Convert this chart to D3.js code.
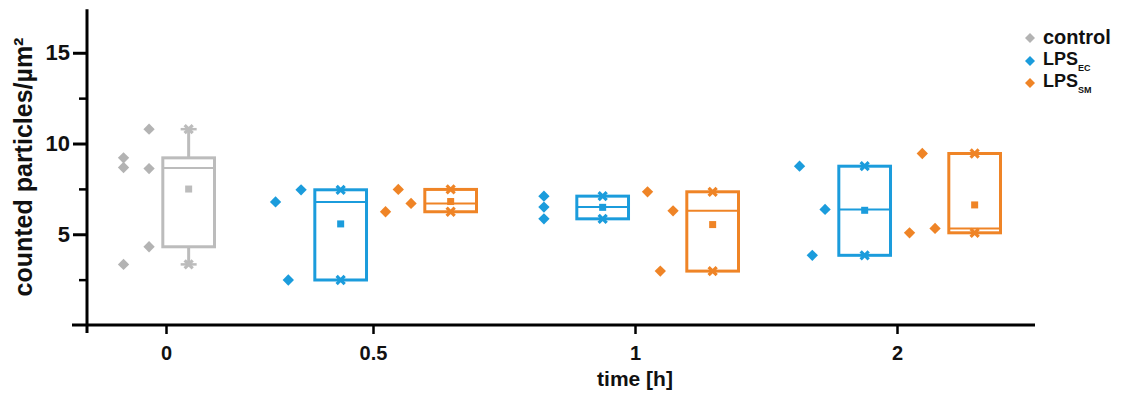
<!DOCTYPE html>
<html><head><meta charset="utf-8">
<script src="https://cdn.jsdelivr.net/npm/d3@7"></script>
<style>
body{margin:0;background:#fff}
svg{display:block}
text{font-family:"Liberation Sans",Arial,sans-serif;font-weight:bold;fill:#111}
</style>
</head><body><svg id="c" width="1126" height="398"></svg>
<script>
// ---------- data ----------
const timeLabels = ["0", "0.5", "1", "2"];
const seriesNames = ["control", "LPS_EC", "LPS_SM"];
const controlValues = [10.79, 9.21, 8.68, 8.62, 4.31, 3.34];       // t = 0
const controlJitter = [1, -1, -1, 1, 1, -1];
const ecValues = [[7.45, 6.78, 2.48], [7.10, 6.50, 5.85], [8.75, 6.37, 3.84]]; // t = 0.5, 1, 2
const ecJitter = [[1, -1, 0], [-0.5, -0.5, -0.5], [-1, 1, 0]];
const smValues = [[7.47, 6.70, 6.24], [7.34, 6.29, 2.97], [9.45, 5.32, 5.08]]; // t = 0.5, 1, 2
const smJitter = [[0, 1, -1], [-1, 1, 0], [0, 1, -1]];
const yMajorTicks = [5, 10, 15];
const yMinorTicks = [2.5, 7.5, 12.5];
const xTitle = "time [h]";
const yTitle = "counted particles/µm²";

// ---------- styles ----------
const colors = { "control": "#b3b3b3", "LPS_EC": "#1b9cdc", "LPS_SM": "#ef8426" };
const boxColors = { "control": "#bcbcbc", "LPS_EC": "#1b9cdc", "LPS_SM": "#ef8426" };

// ---------- build groups ----------
const groups = timeLabels.map((t, i) => {
  if (i === 0) return { time: t, items: [{ series: "control", values: controlValues, jitter: controlJitter }] };
  return { time: t, items: [
    { series: "LPS_EC", values: ecValues[i - 1], jitter: ecJitter[i - 1] },
    { series: "LPS_SM", values: smValues[i - 1], jitter: smJitter[i - 1] }
  ]};
});
// slot layout (units: one slot = 1)
const GAP = 0.382;
let u = 0;
groups.forEach((g, gi) => {
  if (gi > 0) u += GAP;
  g.items.forEach(it => { it.center = u + 0.5; u += 1; });
  g.tick = d3.mean(g.items, d => d.center);
});
function stats(vals) {
  const s = vals.slice().sort(d3.ascending), n = s.length;
  const nr = p => s[Math.max(0, Math.ceil(p * n) - 1)];
  return { min: s[0], max: s[n - 1], q1: nr(0.25), q3: nr(0.75), med: d3.median(s), mean: d3.mean(s) };
}

// ---------- scales ----------
const svg = d3.select("#c");
const x = d3.scaleLinear().domain([groups[0].tick, groups[3].tick]).range([166, 897]);
const y = d3.scaleLinear().domain([0, 17.5]).range([325, 7.4]);

// ---------- axes ----------
const axisG = svg.append("g");
axisG.append("line").attr("x1", 87).attr("x2", 87).attr("y1", y(17.4)).attr("y2", 333)
  .attr("stroke", "#000").attr("stroke-width", 3);
const yAx = svg.append("g").attr("transform", "translate(87,0)")
  .call(d3.axisLeft(y).tickValues(yMajorTicks).tickSize(14).tickPadding(3).tickSizeOuter(0));
yAx.select(".domain").remove();
yAx.selectAll(".tick line").attr("stroke", "#000").attr("stroke-width", 3);
yAx.selectAll(".tick text").attr("font-size", 22).style("font-family", '"Liberation Sans",Arial,sans-serif')
  .style("font-weight", "bold").attr("fill", "#111");
const yMin = svg.append("g").attr("transform", "translate(87,0)")
  .call(d3.axisLeft(y).tickValues(yMinorTicks).tickSize(8).tickFormat("").tickSizeOuter(0));
yMin.select(".domain").remove();
yMin.selectAll(".tick line").attr("stroke", "#000").attr("stroke-width", 2.5);
axisG.append("line").attr("x1", 72).attr("x2", 1035).attr("y1", 325).attr("y2", 325)
  .attr("stroke", "#000").attr("stroke-width", 3);
const xAx = svg.append("g").attr("transform", "translate(0,325)")
  .call(d3.axisBottom(x).tickValues(groups.map(g => g.tick)).tickFormat((d, i) => groups[i].time)
    .tickSize(9).tickPadding(12).tickSizeOuter(0));
xAx.select(".domain").remove();
xAx.selectAll(".tick line").attr("stroke", "#000").attr("stroke-width", 2.5);
xAx.selectAll(".tick text").attr("font-size", 20).style("font-family", '"Liberation Sans",Arial,sans-serif')
  .style("font-weight", "bold").attr("fill", "#111");

// titles
svg.append("text").attr("x", x(groups[2].tick)).attr("y", 386).attr("text-anchor", "middle")
  .attr("font-size", 21).text(xTitle);
svg.append("text").attr("transform", `translate(32,${167}) rotate(-90)`).attr("text-anchor", "middle")
  .attr("font-size", 25).text(yTitle);

// ---------- marks ----------
const diamond = d3.symbol(d3.symbolSquare, 64)();
const times = d3.symbol(d3.symbolTimes, 44)();
const plot = svg.append("g");
groups.forEach(g => g.items.forEach(it => {
  const c = colors[it.series], bc = boxColors[it.series];
  const st = stats(it.values);
  const bx = it.center + 0.206, hw = 0.235;
  const gI = plot.append("g");
  gI.selectAll("path.pt").data(it.values).join("path").attr("class", "pt")
    .attr("d", diamond).attr("fill", c)
    .attr("transform", (v, k) => `translate(${x(it.center - 0.27 + it.jitter[k] * 0.116)},${y(v)}) rotate(45)`);
  if (st.max > st.q3) {
    gI.append("line").attr("x1", x(bx)).attr("x2", x(bx)).attr("y1", y(st.q3)).attr("y2", y(st.max)).attr("stroke", bc).attr("stroke-width", 3);
    gI.append("line").attr("x1", x(bx) - 8).attr("x2", x(bx) + 8).attr("y1", y(st.max)).attr("y2", y(st.max)).attr("stroke", bc).attr("stroke-width", 2.5);
  }
  if (st.min < st.q1) {
    gI.append("line").attr("x1", x(bx)).attr("x2", x(bx)).attr("y1", y(st.q1)).attr("y2", y(st.min)).attr("stroke", bc).attr("stroke-width", 3);
    gI.append("line").attr("x1", x(bx) - 8).attr("x2", x(bx) + 8).attr("y1", y(st.min)).attr("y2", y(st.min)).attr("stroke", bc).attr("stroke-width", 2.5);
  }
  gI.append("rect").attr("x", x(bx - hw)).attr("width", x(bx + hw) - x(bx - hw))
    .attr("y", y(st.q3)).attr("height", y(st.q1) - y(st.q3))
    .attr("fill", "none").attr("stroke", bc).attr("stroke-width", 3);
  gI.append("line").attr("x1", x(bx - hw)).attr("x2", x(bx + hw)).attr("y1", y(st.med)).attr("y2", y(st.med))
    .attr("stroke", bc).attr("stroke-width", 2);
  gI.selectAll("path.mm").data([st.min, st.max]).join("path").attr("class", "mm")
    .attr("d", times).attr("fill", "none").attr("stroke", bc).attr("stroke-width", 3.2)
    .attr("transform", v => `translate(${x(bx)},${y(v)})`);
  gI.append("rect").attr("x", x(bx) - 3.5).attr("y", y(st.mean) - 3.5).attr("width", 7).attr("height", 7).attr("fill", bc);
}));

// ---------- legend ----------
const leg = svg.append("g");
const legRows = [
  { s: "control", main: "control", sub: "", base: 44, dy: 38, fs: 20 },
  { s: "LPS_EC", main: "LPS", sub: "EC", base: 65, dy: 61, fs: 18 },
  { s: "LPS_SM", main: "LPS", sub: "SM", base: 87, dy: 83, fs: 18 }
];
const legDiamond = d3.symbol(d3.symbolSquare, 50)();
legRows.forEach(r => {
  leg.append("path").attr("d", legDiamond).attr("fill", colors[r.s])
    .attr("transform", `translate(1030,${r.dy}) rotate(45)`);
  const t = leg.append("text").attr("x", 1043).attr("y", r.base).attr("font-size", r.fs).text(r.main);
  if (r.sub) t.append("tspan").attr("font-size", 9).attr("dy", 6).text(r.sub);
});
</script>
</body></html>
